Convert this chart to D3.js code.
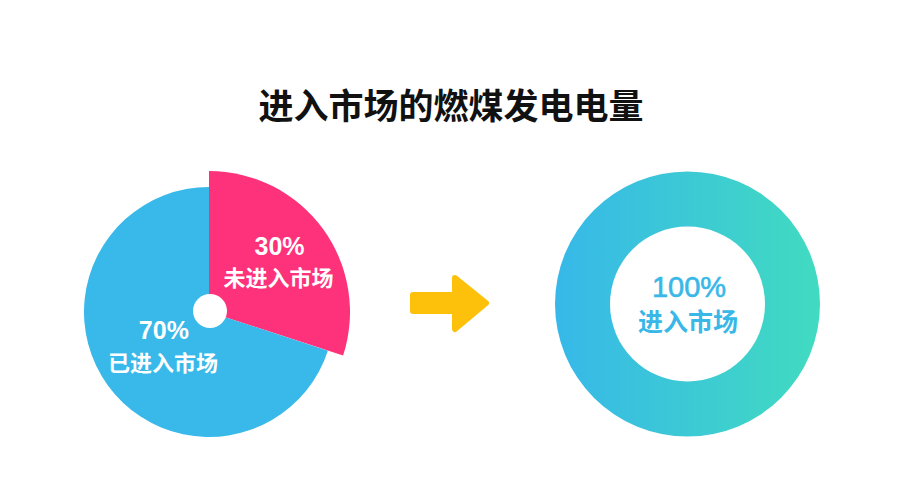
<!DOCTYPE html>
<html><head><meta charset="utf-8">
<script src="https://cdn.jsdelivr.net/npm/d3@7"></script>
<style>
html,body{margin:0;padding:0;background:#fff;}
svg{display:block;font-family:"Noto Sans CJK SC","Noto Sans",sans-serif;}
</style></head>
<body>
<svg id="c" width="900" height="489"></svg>
<script>
const title = "进入市场的燃煤发电电量";
const leftCategories = ["未进入市场", "已进入市场"];
const leftValues = [30, 70];
const rightCategories = ["进入市场"];
const rightValues = [100];

const svg = d3.select("#c");
const numFont = "'Liberation Sans', Arial, sans-serif";

svg.append("text")
  .attr("x", 451).attr("y", 103)
  .attr("text-anchor", "middle").attr("dominant-baseline", "central")
  .attr("font-size", 35).attr("font-weight", 700).attr("fill", "#111")
  .text(title);

// ---- left pie ----
const lc = {x: 209, y: 312};
const colors = {"未进入市场": "#fe327a", "已进入市场": "#38b9e9"};
const outerR = {"未进入市场": 141, "已进入市场": 125};
const labelR = {"未进入市场": 86, "已进入市场": 57};
const pie = d3.pie().sort(null).value(d => d.v);
const leftData = pie(leftCategories.map((c, i) => ({c, v: leftValues[i]})));
const total = d3.sum(leftValues);
const gL = svg.append("g").attr("transform", `translate(${lc.x},${lc.y})`);
gL.selectAll("path.s").data(leftData).enter().append("path")
  .attr("class", "s")
  .attr("d", d => d3.arc().innerRadius(0).outerRadius(outerR[d.data.c])(d))
  .attr("fill", d => colors[d.data.c]);
gL.append("circle").attr("cx", 1).attr("cy", -1).attr("r", 17).attr("fill", "#fff");
const lbl = gL.selectAll("g.l").data(leftData).enter().append("g")
  .attr("class", "l")
  .attr("transform", d => {
    const a = (d.startAngle + d.endAngle) / 2, r = labelR[d.data.c];
    return `translate(${Math.sin(a) * r},${-Math.cos(a) * r})`;
  });
lbl.append("text").attr("y", -15.5).attr("x", 1)
  .attr("text-anchor", "middle").attr("dominant-baseline", "central")
  .attr("font-family", numFont)
  .attr("font-size", 25).attr("font-weight", 700).attr("fill", "#fff")
  .text(d => Math.round(d.data.v / total * 100) + "%");
lbl.append("text").attr("y", 15)
  .attr("text-anchor", "middle").attr("dominant-baseline", "central")
  .attr("font-size", 22).attr("font-weight", 700).attr("fill", "#fff")
  .text(d => d.data.c);

// ---- arrow ----
const ar = svg.append("g").attr("transform", "translate(410,303)");
ar.append("path")
  .attr("d", "M3,-8 L45,-8 L45,-25 L76,0 L45,26 L45,8 L3,8 Z")
  .attr("fill", "#fdc10b").attr("stroke", "#fdc10b")
  .attr("stroke-width", 6).attr("stroke-linejoin", "round");

// ---- right donut ----
const rc = {x: 687.5, y: 304};
const defs = svg.append("defs");
const grad = defs.append("linearGradient").attr("id", "g1")
  .attr("gradientUnits", "userSpaceOnUse")
  .attr("x1", -133).attr("x2", 133).attr("y1", 0).attr("y2", 0);
grad.append("stop").attr("offset", "0%").attr("stop-color", "#37b8e9");
grad.append("stop").attr("offset", "100%").attr("stop-color", "#41dbc0");
const rData = d3.pie().sort(null)(rightValues);
svg.append("g").attr("transform", `translate(${rc.x},${rc.y})`)
  .selectAll("path").data(rData).enter().append("path")
  .attr("d", d3.arc().innerRadius(77.5).outerRadius(132.5))
  .attr("fill", "url(#g1)");
const rsum = d3.sum(rightValues);
svg.append("text").attr("x", rc.x + 1.5).attr("y", 287)
  .attr("text-anchor", "middle").attr("dominant-baseline", "central")
  .attr("font-family", numFont)
  .attr("font-size", 29).attr("font-weight", 400).attr("fill", "#39b8e8")
  .attr("stroke", "#39b8e8").attr("stroke-width", 0.6)
  .text(Math.round(rightValues[0] / rsum * 100) + "%");
svg.append("text").attr("x", rc.x + 0.5).attr("y", 320)
  .attr("text-anchor", "middle").attr("dominant-baseline", "central")
  .attr("font-size", 25).attr("font-weight", 700).attr("fill", "#39b8e8")
  .text(rightCategories[0]);
</script>
</body></html>
